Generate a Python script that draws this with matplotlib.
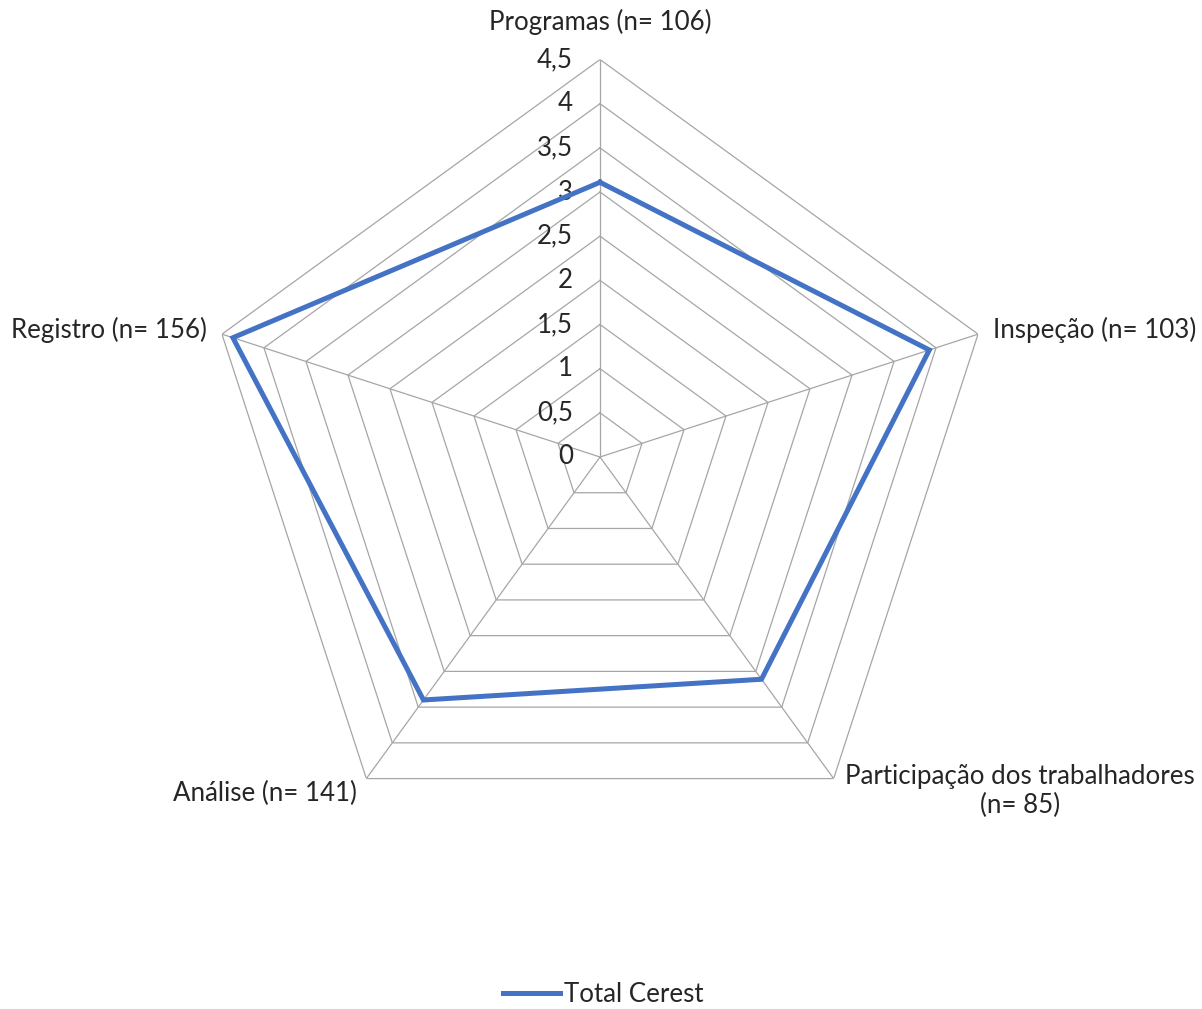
import numpy as np
import matplotlib
matplotlib.use("Agg")
import matplotlib.pyplot as plt

categories = ["Programas (n= 106)", "Inspeção (n= 103)",
              "Participação dos trabalhadores\n(n= 85)", "Análise (n= 141)",
              "Registro (n= 156)"]
values = [3.11, 3.92, 3.11, 3.40, 4.37]
levels = [0, 0.5, 1, 1.5, 2, 2.5, 3, 3.5, 4, 4.5]
level_labels = ["0", "0,5", "1", "1,5", "2", "2,5", "3", "3,5", "4", "4,5"]
series_name = "Total Cerest"

plt.rcParams['font.family'] = ['Lato', 'DejaVu Sans']
W, H = 1202, 1009
fig = plt.figure(figsize=(W / 100, H / 100), dpi=100)
cx, cy, R = 600, 457, 397.5
ax = fig.add_axes([(cx - R) / W, (H - cy - R) / H, 2 * R / W, 2 * R / H], projection='polar')
ax.set_theta_zero_location('N')
ax.set_theta_direction(-1)
ax.set_ylim(0, levels[-1])
ax.grid(False)
ax.spines['polar'].set_visible(False)
ax.set_xticks([])
ax.set_yticks([])
ax.patch.set_alpha(0)

n = len(categories)
th = np.arange(n) * 2 * np.pi / n
thc = np.append(th, th[0])
grid_c = '#A6A6A6'
for lv in levels[1:]:
    ax.plot(thc, [lv] * (n + 1), color=grid_c, lw=0.9, zorder=1)
for t in th:
    ax.plot([t, t], [0, levels[-1]], color=grid_c, lw=0.9, zorder=1)

vals = np.append(values, values[0])
ax.plot(thc, vals, color='#4472C4', lw=3.6, zorder=3, label=series_name, solid_joinstyle='miter')

txt_c = '#262626'
fs = 18.6
for lv, lab in zip(levels, level_labels):
    ax.annotate(lab, xy=(0, lv), xytext=(-27, 0), textcoords='offset pixels',
                ha='right', va='center', fontsize=fs, color=txt_c, zorder=2)

fig.text(600 / W, 1 - 22 / H, categories[0], ha='center', va='center', fontsize=fs, color=txt_c)
fig.text(993 / W, 1 - 330 / H, categories[1], ha='left', va='center', fontsize=fs, color=txt_c)
fig.text(1020 / W, 1 - 791 / H, categories[2], ha='center', va='center', fontsize=fs, color=txt_c,
         linespacing=1.2)
fig.text(357 / W, 1 - 793 / H, categories[3], ha='right', va='center', fontsize=fs, color=txt_c)
fig.text(207 / W, 1 - 330 / H, categories[4], ha='right', va='center', fontsize=fs, color=txt_c)

leg = fig.legend(loc='center', bbox_to_anchor=(603 / W, 1 - 995 / H), frameon=False,
                 fontsize=fs, handlelength=2.2, handletextpad=0.15, labelcolor=txt_c)

fig.savefig('out.png', dpi=100)
